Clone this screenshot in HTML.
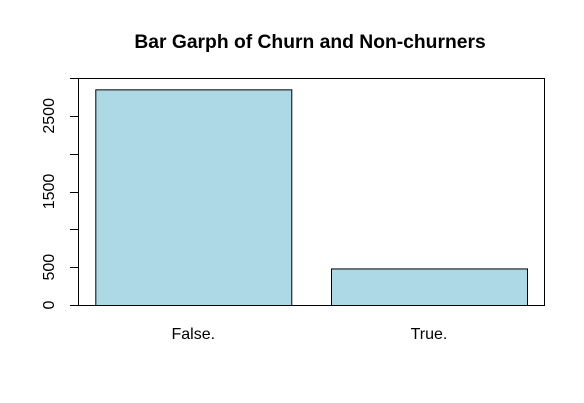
<!DOCTYPE html>
<html><head><meta charset="utf-8"><style>body{margin:0;background:#fff}svg{display:block;font-family:"Liberation Sans",Arial,sans-serif}</style></head>
<body>
<svg id="chart" width="584" height="403">
<text x="310" y="48" text-anchor="middle" font-size="19.3" font-weight="bold">Bar Garph of Churn and Non-churners</text>
<rect x="78.5" y="78.5" width="466" height="227" fill="none" stroke="#000"/>
<g id="bars"></g><g id="yaxis"></g><g id="xlabels"></g>
</svg>
<script>
const categories = ["False.", "True."];
const counts = [2850, 483];
const yTicks = [0, 500, 1000, 1500, 2000, 2500, 3000];
const yTickLabels = ["0", "500", "", "1500", "", "2500", ""];
const NS = "http://www.w3.org/2000/svg";
const y = v => 305 - v * 227 / 3000;
const barLeft = i => 95.3 + i * 235.7;
const barW = 196;
const bars = document.getElementById('bars');
counts.forEach((c, i) => {
  const r = document.createElementNS(NS, 'rect');
  r.setAttribute('x', barLeft(i) + 0.5); r.setAttribute('y', y(c) + 0.5);
  r.setAttribute('width', barW); r.setAttribute('height', 305 - y(c));
  r.setAttribute('fill', '#add8e6'); r.setAttribute('stroke', '#000');
  
  
  bars.appendChild(r);
  const t = document.createElementNS(NS, 'text');
  t.setAttribute('x', barLeft(i) + barW / 2); t.setAttribute('y', 339);
  t.setAttribute('text-anchor', 'middle'); t.setAttribute('font-size', '16');
  t.textContent = categories[i];
  
  
  document.getElementById('xlabels').appendChild(t);
});
const ya = document.getElementById('yaxis');
yTicks.forEach((v, i) => {
  const l = document.createElementNS(NS, 'line');
  l.setAttribute('x1', 70); l.setAttribute('x2', 78.5);
  l.setAttribute('y1', Math.round(y(v)) + 0.5); l.setAttribute('y2', Math.round(y(v)) + 0.5);
  l.setAttribute('stroke', '#000');
  
  
  ya.appendChild(l);
  if (yTickLabels[i]) {
    const t = document.createElementNS(NS, 'text');
    const yy = y(v);
    t.setAttribute('transform', `translate(54,${yy}) rotate(-90)`);
    t.setAttribute('text-anchor', 'middle'); t.setAttribute('font-size', '16');
    t.textContent = yTickLabels[i];
    
    
    ya.appendChild(t);
  }
});
</script>
</body></html>
